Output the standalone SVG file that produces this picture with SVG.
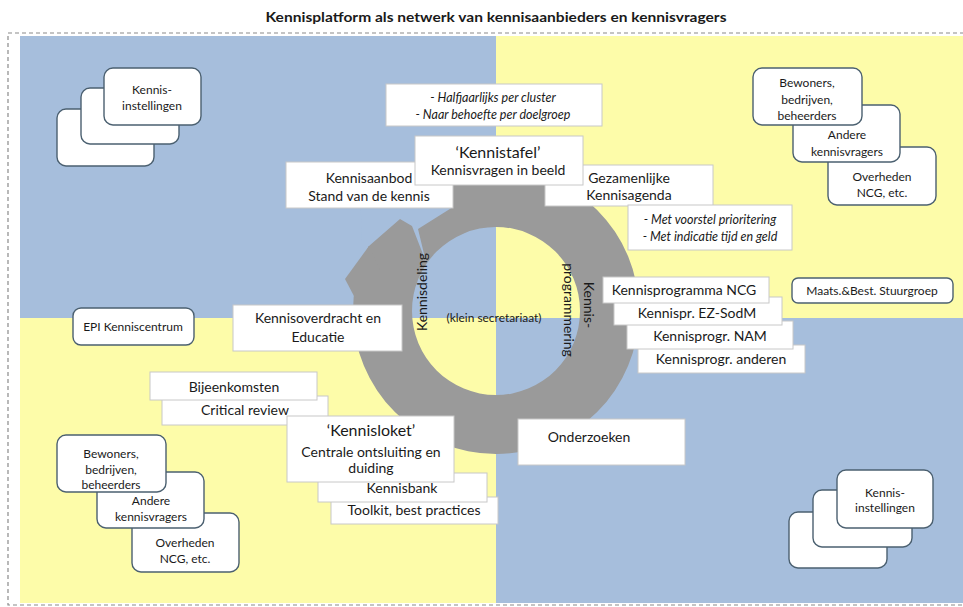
<svg xmlns="http://www.w3.org/2000/svg" width="963" height="607" viewBox="0 0 963 607">
<style>
text{font-family:Lato,"Liberation Sans",Arial,sans-serif;fill:#1a1a1a;text-anchor:middle}
.t{font-size:14px}
.s{font-size:12px}
.i{font-size:12.5px;font-style:italic}
.h{font-size:16px}
.title{font-size:14px;font-weight:bold}
.wb{fill:#fff;stroke:#c8c8c8;stroke-width:1}
.rb{fill:#fff;stroke:#4b6070;stroke-width:1.4}
.blue{fill:#a6bedc}
.yel{fill:#fdfca9}
.ring{fill:#9a9a9a}
</style>
<rect x="0" y="0" width="963" height="607" fill="#fff"/>
<text class="title" x="496" y="22" textLength="461" lengthAdjust="spacingAndGlyphs">Kennisplatform als netwerk van kennisaanbieders  en kennisvragers</text>
<g id="background">
<rect class="blue" x="20" y="36" width="476" height="282"/>
<rect class="yel" x="496" y="36" width="467" height="282"/>
<rect class="yel" x="20" y="318" width="476" height="285"/>
<rect class="blue" x="496" y="318" width="467" height="285"/>
<rect x="8" y="33" width="975" height="572" fill="none" stroke="#8a8a8a" stroke-width="1.2" stroke-dasharray="4,3"/>
</g>
<g id="cycle">
<path class="ring" fill-rule="evenodd" d="M353,311A143,143 0 1,0 639,311A143,143 0 1,0 353,311ZM412,311A84,84 0 1,1 580,311A84,84 0 1,1 412,311Z"/>
<polygon class="ring" points="369,246 345,279 355,298 380,270"/>
<polygon class="blue" points="426,262 418,229 453,207 453,185 360,185 362,246 369,246 400,219 412,226"/>
<text x="494" y="322" style="font-size:11px" textLength="95" lengthAdjust="spacingAndGlyphs">(klein secretariaat)</text>
<text class="t" dominant-baseline="central" transform="translate(421,292) rotate(-90)">Kennisdeling</text>
<text class="t" dominant-baseline="central" transform="translate(589,305) rotate(90)">Kennis-</text>
<text class="t" dominant-baseline="central" transform="translate(569,310) rotate(90)">programmering</text>
</g>
<g id="connectors"></g>
<g id="kennisinstellingen-tl">
<rect class="rb" x="57" y="109" width="97" height="57" rx="9"/>
<rect class="rb" x="81" y="88" width="98" height="56" rx="9"/>
<rect class="rb" x="104" y="68" width="97" height="57" rx="9"/>
<text class="s" x="152" y="94">Kennis-</text>
<text class="s" x="152" y="110">instellingen</text>
</g>
<g id="kennisinstellingen-br">
<rect class="rb" x="789" y="512" width="98" height="56" rx="9"/>
<rect class="rb" x="813" y="490" width="99" height="57" rx="9"/>
<rect class="rb" x="837" y="470" width="96" height="58" rx="9"/>
<text class="s" x="885" y="497">Kennis-</text>
<text class="s" x="885" y="512">instellingen</text>
</g>
<g id="vragers-tr">
<rect class="rb" x="828" y="147" width="108" height="58" rx="9"/>
<text class="s" x="882" y="181">Overheden</text>
<text class="s" x="882" y="197">NCG, etc.</text>
<rect class="rb" x="793" y="105" width="107" height="57" rx="9"/>
<text class="s" x="847" y="139">Andere</text>
<text class="s" x="847" y="156">kennisvragers</text>
<rect class="rb" x="753" y="68" width="109" height="57" rx="9"/>
<text class="s" x="807" y="87">Bewoners,</text>
<text class="s" x="807" y="104">bedrijven,</text>
<text class="s" x="807" y="120">beheerders</text>
</g>
<g id="vragers-bl">
<rect class="rb" x="132" y="513" width="107" height="59" rx="9"/>
<text class="s" x="185" y="547">Overheden</text>
<text class="s" x="185" y="563">NCG, etc.</text>
<rect class="rb" x="97" y="472" width="107" height="56" rx="9"/>
<text class="s" x="151" y="505">Andere</text>
<text class="s" x="151" y="521">kennisvragers</text>
<rect class="rb" x="57" y="435" width="109" height="57" rx="9"/>
<text class="s" x="111" y="458">Bewoners,</text>
<text class="s" x="111" y="474">bedrijven,</text>
<text class="s" x="111" y="489">beheerders</text>
</g>
<g id="epi">
<rect class="rb" x="73" y="308" width="121" height="37" rx="8"/>
<text class="s" x="133" y="331">EPI Kenniscentrum</text>
</g>
<g id="stuurgroep">
<rect class="rb" x="792" y="278" width="161" height="25" rx="6"/>
<text class="s" x="872" y="295">Maats.&amp;Best. Stuurgroep</text>
</g>
<g id="halfjaarlijks">
<rect class="wb" x="386" y="84" width="216" height="42"/>
<text class="i" x="493" y="102">- Halfjaarlijks per cluster</text>
<text class="i" x="493" y="119">- Naar behoefte per doelgroep</text>
</g>
<g id="kennisaanbod">
<rect class="wb" x="286" y="162" width="167" height="46"/>
<text class="t" x="369" y="183">Kennisaanbod</text>
<text class="t" x="369" y="201">Stand van de kennis</text>
</g>
<g id="gezamenlijke-agenda">
<rect class="wb" x="545" y="165" width="168" height="41"/>
<text class="t" x="629" y="183">Gezamenlijke</text>
<text class="t" x="629" y="200">Kennisagenda</text>
</g>
<g id="kennistafel">
<rect class="wb" x="415" y="136" width="168" height="49"/>
<text class="h" x="498" y="158">‘Kennistafel’</text>
<text class="t" x="498" y="175">Kennisvragen in beeld</text>
</g>
<g id="prioritering">
<rect class="wb" x="628" y="205" width="164" height="45"/>
<text class="i" x="710" y="224">- Met voorstel prioritering</text>
<text class="i" x="710" y="241">- Met indicatie tijd en geld</text>
</g>
<g id="kennisprogrammas">
<rect class="wb" x="638" y="345" width="167" height="28"/>
<text class="t" x="721" y="364">Kennisprogr. anderen</text>
<rect class="wb" x="627" y="321" width="166" height="28"/>
<text class="t" x="710" y="341">Kennisprogr. NAM</text>
<rect class="wb" x="614" y="297" width="168" height="28"/>
<text class="t" x="697" y="318">Kennispr. EZ-SodM</text>
<rect class="wb" x="603" y="277" width="166" height="26"/>
<text class="t" x="684" y="295">Kennisprogramma NCG</text>
</g>
<g id="kennisoverdracht">
<rect class="wb" x="233" y="305" width="169" height="46"/>
<text class="t" x="318" y="323">Kennisoverdracht  en</text>
<text class="t" x="318" y="342">Educatie</text>
</g>
<g id="onderzoeken">
<rect class="wb" x="518" y="419" width="167" height="46"/>
<text class="t" x="589" y="442">Onderzoeken</text>
</g>
<g id="kennisloket">
<rect class="wb" x="331" y="497" width="167" height="27"/>
<text class="t" x="414" y="515">Toolkit, best practices</text>
<rect class="wb" x="318" y="473" width="169" height="29"/>
<text class="t" x="402" y="493">Kennisbank</text>
<rect class="wb" x="162" y="396" width="166" height="29"/>
<text class="t" x="245" y="415">Critical review</text>
<rect class="wb" x="150" y="372" width="167" height="28"/>
<text class="t" x="234" y="392">Bijeenkomsten</text>
<rect class="wb" x="287" y="416" width="167" height="66"/>
<text class="h" x="371" y="436">‘Kennisloket’</text>
<text class="t" x="371" y="457">Centrale ontsluiting en</text>
<text class="t" x="371" y="473">duiding</text>
</g>
</svg>
